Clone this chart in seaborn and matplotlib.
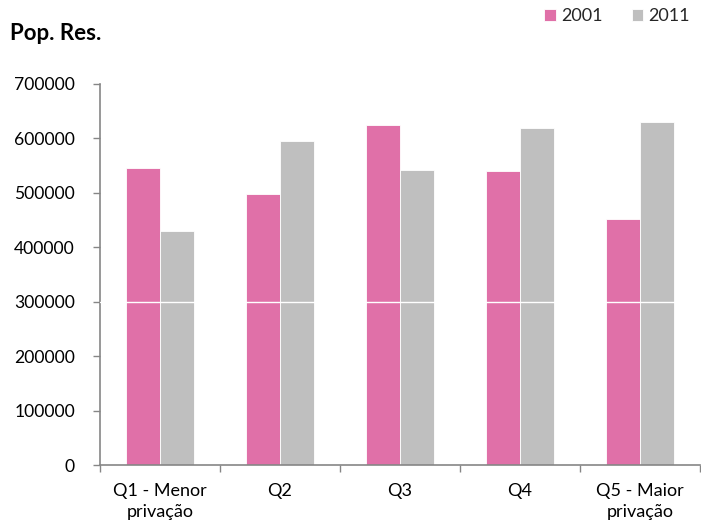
import matplotlib
matplotlib.use("Agg")
import matplotlib.pyplot as plt
import seaborn as sns
import pandas as pd
from matplotlib.ticker import FixedLocator

categories = ["Q1 - Menor\nprivação", "Q2", "Q3", "Q4", "Q5 - Maior\nprivação"]
values_2001 = [546000, 497500, 625000, 540000, 452000]
values_2011 = [431000, 596000, 543000, 619000, 631000]
series = ["2001", "2011"]
colors = ["#E070A8", "#BFBFBF"]
y_ticks = [0, 100000, 200000, 300000, 400000, 500000, 600000, 700000]

df = pd.DataFrame({
    "cat": categories * 2,
    "val": values_2001 + values_2011,
    "ano": [series[0]] * len(categories) + [series[1]] * len(categories),
})

sns.set_theme(style="white")
plt.rcParams["font.family"] = ["Lato", "DejaVu Sans"]

fig = plt.figure(figsize=(7.01, 5.24), dpi=100)
ax = fig.add_axes([100 / 701, 1 - 465.3 / 524, 600 / 701, (465.3 - 84) / 524])

sns.barplot(data=df, x="cat", y="val", hue="ano", palette=colors, width=0.57,
            order=categories, hue_order=series, ax=ax, edgecolor="white",
            linewidth=0.6, saturation=1, legend=True)

ax.axhline(300000, color="white", lw=1.0, zorder=5)

ax.set_xlim(-0.5, len(categories) - 0.5)
ax.set_ylim(0, 700000)
ax.set_yticks(y_ticks)
ax.set_yticklabels([str(v) for v in y_ticks], fontsize=12.6, color="black")
ax.set_xlabel("")
ax.set_ylabel("")
ax.tick_params(axis="x", which="major", length=0, pad=13, labelsize=13, labelcolor="black")
for lbl in ax.get_xticklabels():
    lbl.set_linespacing(1.35)
ax.xaxis.set_minor_locator(FixedLocator([i - 0.5 for i in range(len(categories) + 1)]))
ax.tick_params(axis="x", which="minor", length=5, width=1, color="#868686", direction="out", bottom=True)
ax.tick_params(axis="y", length=5, width=1, color="#868686", direction="out", left=True, pad=13)

for s in ["top", "right"]:
    ax.spines[s].set_visible(False)
for s in ["left", "bottom"]:
    ax.spines[s].set_color("#868686")
    ax.spines[s].set_linewidth(1.2)
ax.grid(False)

handles, labels = ax.get_legend_handles_labels()
ax.get_legend().remove()
fig.legend(handles, labels, loc="upper right", bbox_to_anchor=(1.0, 1.005), ncol=2,
           frameon=False, fontsize=13, handlelength=0.65, handleheight=0.65,
           handletextpad=0.3, columnspacing=1.6, borderaxespad=0.2)

fig.text(10 / 701, 1 - 33 / 524, "Pop. Res.", fontsize=16, fontweight="bold",
         va="center", ha="left", color="black")

fig.savefig("out.png", dpi=100)
